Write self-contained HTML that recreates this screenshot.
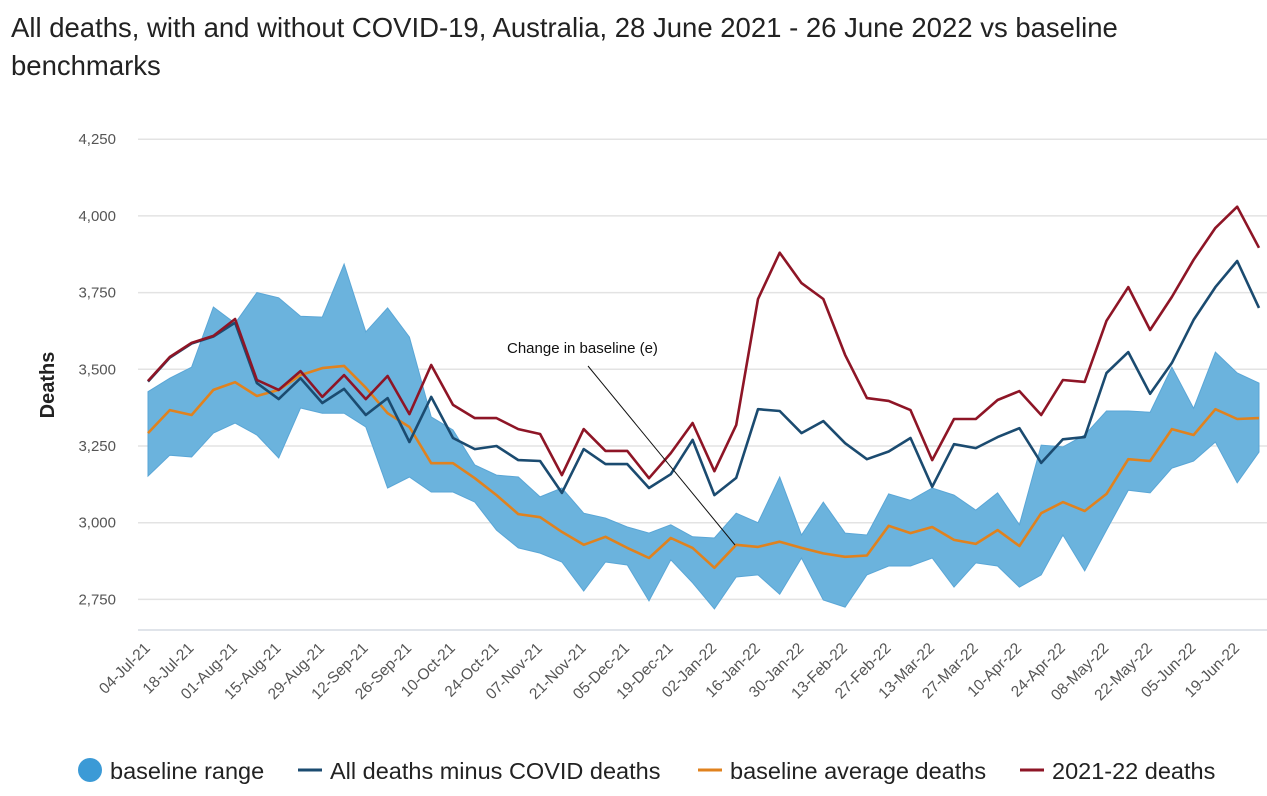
<!DOCTYPE html>
<html><head><meta charset="utf-8"><style>
body{margin:0;background:#fff;font-family:"Liberation Sans",sans-serif;}
#wrap{position:relative;width:1267px;height:796px;overflow:hidden;}
.title{position:absolute;left:11px;top:9px;font-size:27.5px;line-height:38px;color:#222;width:1200px;}
</style></head><body>
<div id="wrap">
<div class="title">All deaths, with and without COVID-19, Australia, 28 June 2021 - 26 June 2022 vs baseline benchmarks</div>
<svg id="chart" width="1267" height="796" style="position:absolute;left:0;top:0"></svg>
</div>
<script>
const dates=["04-Jul-21","11-Jul-21","18-Jul-21","25-Jul-21","01-Aug-21","08-Aug-21","15-Aug-21","22-Aug-21","29-Aug-21","05-Sep-21","12-Sep-21","19-Sep-21","26-Sep-21","03-Oct-21","10-Oct-21","17-Oct-21","24-Oct-21","31-Oct-21","07-Nov-21","14-Nov-21","21-Nov-21","28-Nov-21","05-Dec-21","12-Dec-21","19-Dec-21","26-Dec-21","02-Jan-22","09-Jan-22","16-Jan-22","23-Jan-22","30-Jan-22","06-Feb-22","13-Feb-22","20-Feb-22","27-Feb-22","06-Mar-22","13-Mar-22","20-Mar-22","27-Mar-22","03-Apr-22","10-Apr-22","17-Apr-22","24-Apr-22","01-May-22","08-May-22","15-May-22","22-May-22","29-May-22","05-Jun-22","12-Jun-22","19-Jun-22","26-Jun-22"];
const deaths2122=[3462,3540,3586,3609,3664,3465,3433,3494,3410,3481,3403,3478,3354,3514,3384,3341,3341,3305,3289,3155,3305,3234,3234,3145,3227,3325,3168,3318,3729,3880,3781,3729,3547,3406,3397,3367,3204,3338,3338,3400,3429,3351,3465,3459,3658,3768,3628,3736,3857,3961,4030,3896];
const minusCovid=[3460,3538,3584,3607,3652,3455,3403,3471,3390,3436,3351,3406,3263,3410,3276,3240,3250,3204,3201,3097,3240,3191,3191,3113,3158,3270,3090,3146,3370,3364,3292,3331,3259,3207,3232,3276,3117,3256,3243,3279,3308,3195,3272,3279,3488,3556,3420,3521,3661,3768,3853,3700];
const baselineAvg=[3292,3367,3351,3433,3458,3413,3433,3481,3504,3511,3440,3357,3312,3194,3194,3145,3090,3028,3018,2970,2928,2954,2918,2885,2950,2918,2853,2928,2921,2938,2918,2900,2889,2893,2990,2966,2986,2944,2931,2976,2924,3031,3067,3038,3094,3207,3201,3305,3286,3370,3338,3341];
const bandUpper=[3427,3471,3507,3703,3650,3750,3733,3673,3670,3843,3622,3700,3605,3345,3302,3188,3155,3149,3084,3113,3031,3015,2986,2966,2993,2954,2950,3031,3000,3149,2960,3067,2966,2960,3094,3073,3113,3090,3041,3097,2993,3253,3247,3286,3364,3364,3360,3507,3373,3556,3488,3455];
const bandLower=[3152,3220,3214,3292,3325,3286,3211,3374,3357,3357,3312,3113,3149,3100,3100,3067,2976,2918,2901,2872,2777,2872,2862,2745,2879,2804,2719,2823,2830,2767,2885,2748,2725,2830,2859,2859,2885,2790,2869,2859,2790,2830,2960,2843,2976,3106,3097,3178,3201,3263,3130,3230];
const yTicks=[2750,3000,3250,3500,3750,4000,4250];

const NS="http://www.w3.org/2000/svg";
const svg=document.getElementById('chart');
const x0=148,x1=1259;
function xs(i){return x0+(x1-x0)*i/(dates.length-1);}
function ys(v){return 369.3-(v-3500)*76.7/250;}
function mk(t,a,p){const e=document.createElementNS(NS,t);for(const k in a)e.setAttribute(k,a[k]);(p||svg).appendChild(e);return e;}

yTicks.forEach(v=>{
  const g=mk('line',{x1:138,x2:1267,y1:ys(v),y2:ys(v),stroke:'#e3e3e3','stroke-width':1.5});
  
  
  const t=mk('text',{x:116,y:ys(v)+5,'text-anchor':'end','font-size':15,fill:'#555'});
  t.textContent=v.toLocaleString('en-US');
  
  
});
const ax=mk('line',{x1:138,x2:1267,y1:630,y2:630,stroke:'#d5dce3','stroke-width':1.5});



const yt=mk('text',{x:0,y:0,transform:'translate(54,385) rotate(-90)','text-anchor':'middle','font-size':20,'font-weight':'bold',fill:'#222'});
yt.textContent='Deaths';



let bp='';
bandUpper.forEach((v,i)=>{bp+=(i?'L':'M')+xs(i).toFixed(1)+','+ys(v).toFixed(1);});
for(let i=bandLower.length-1;i>=0;i--)bp+='L'+xs(i).toFixed(1)+','+ys(bandLower[i]).toFixed(1);
const band=mk('path',{d:bp+'Z',fill:'#6bb3dd',stroke:'#5aa6d6','stroke-width':1});



function line(arr,col,name){
  const d=arr.map((v,i)=>(i?'L':'M')+xs(i).toFixed(1)+','+ys(v).toFixed(1)).join('');
  const p=mk('path',{d:d,fill:'none',stroke:col,'stroke-width':2.6,'stroke-linejoin':'round'});
  
  
}
line(baselineAvg,'#e0821e','baseline-average-line');
line(minusCovid,'#1b4b70','minus-covid-line');
line(deaths2122,'#8e1526','deaths-2021-22-line');

dates.forEach((d,i)=>{
  if(i%2)return;
  const t=mk('text',{x:0,y:0,transform:`translate(${xs(i)+3},${649}) rotate(-45)`,'text-anchor':'end','font-size':15.5,fill:'#555'});
  t.textContent=d;
  
  
});

const al=mk('line',{x1:588,y1:366,x2:735,y2:545,stroke:'#111','stroke-width':1});


const at=mk('text',{x:507,y:353,'font-size':15,fill:'#111'});
at.textContent='Change in baseline (e)';



const lg=mk('g',{});


const c=mk('circle',{cx:90,cy:770,r:12,fill:'#3b9ad6'},lg);


const items=[[110,null,null,'baseline range'],[330,298,'#1b4b70','All deaths minus COVID deaths'],[730,698,'#e0821e','baseline average deaths'],[1052,1020,'#8e1526','2021-22 deaths']];
items.forEach(it=>{
  if(it[1]!==null){
    const l=mk('line',{x1:it[1],x2:it[1]+24,y1:770,y2:770,stroke:it[2],'stroke-width':3},lg);
    
    
  }
  const t=mk('text',{x:it[0],y:779,'font-size':23.5,fill:'#222'},lg);
  t.textContent=it[3];
  
  
});
</script>
</body></html>
